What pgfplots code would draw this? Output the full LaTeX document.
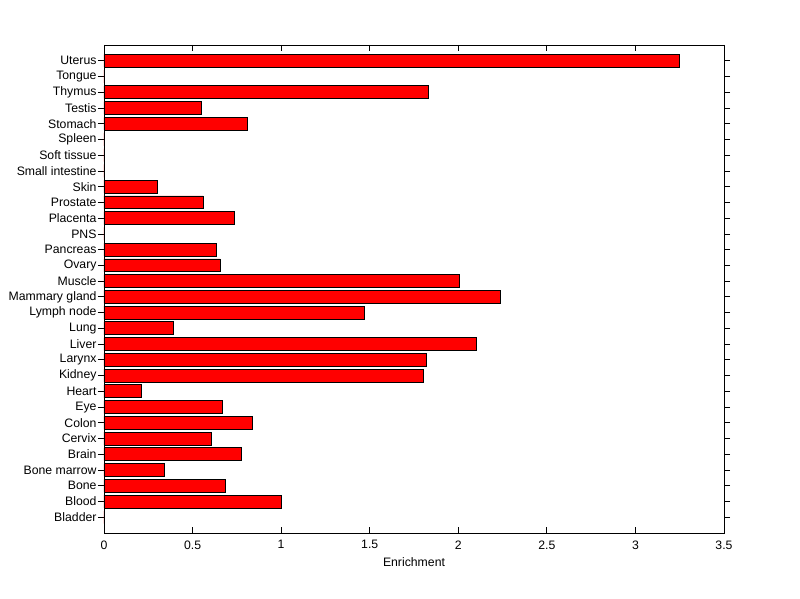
\documentclass[border=0pt]{standalone}
\usepackage{pgfplots}
\pgfplotsset{compat=1.18}
\usepackage{fontspec}
\setmainfont{Liberation Sans}
\begin{document}
\begin{tikzpicture}[x=1bp,y=1bp]
\begin{axis}[
  scale only axis,
  width=620bp, height=488bp,
  xmin=0, xmax=3.5, ymin=-1, ymax=30,
  xtick={0,0.5,...,3.5},
  ytick={0,...,29},
  yticklabels={Bladder,Blood,Bone,Bone marrow,Brain,Cervix,Colon,Eye,Heart,Kidney,Larynx,Liver,Lung,Lymph node,Mammary gland,Muscle,Ovary,Pancreas,PNS,Placenta,Prostate,Skin,Small intestine,Soft tissue,Spleen,Stomach,Testis,Thymus,Tongue,Uterus},
  tick align=inside,
  major tick length=6bp,
  tick style={black, line width=0.8bp},
  axis line style={black, line width=0.8bp},
  xlabel={Enrichment},
  font=\fontsize{12.3}{14}\selectfont,
  tick label style={font=\fontsize{12.3}{14}\selectfont},
  /pgf/number format/assume math mode=true,
  xticklabel style={yshift=-4bp},
  xlabel style={yshift=-2bp},
  yticklabel style={xshift=2bp},
  xbar, bar width=0.82,
]
\addplot[fill=red, draw=black, line width=0.8bp] coordinates {
(0,0) (1.00,1) (0.685,2) (0.339,3) (0.774,4) (0.604,5) (0.836,6) (0.666,7) (0.209,8) (1.801,9)
(1.818,10) (2.10,11) (0.39,12) (1.468,13) (2.236,14) (2.007,15) (0.655,16) (0.632,17) (0,18) (0.734,19)
(0.559,20) (0.299,21) (0,22) (0,23) (0,24) (0.807,25) (0.548,26) (1.832,27) (0,28) (3.247,29)
};
\end{axis}
\path (current axis.south west) +(-104bp,-66bp) (current axis.north east) +(76bp,45bp);
\end{tikzpicture}
\end{document}
